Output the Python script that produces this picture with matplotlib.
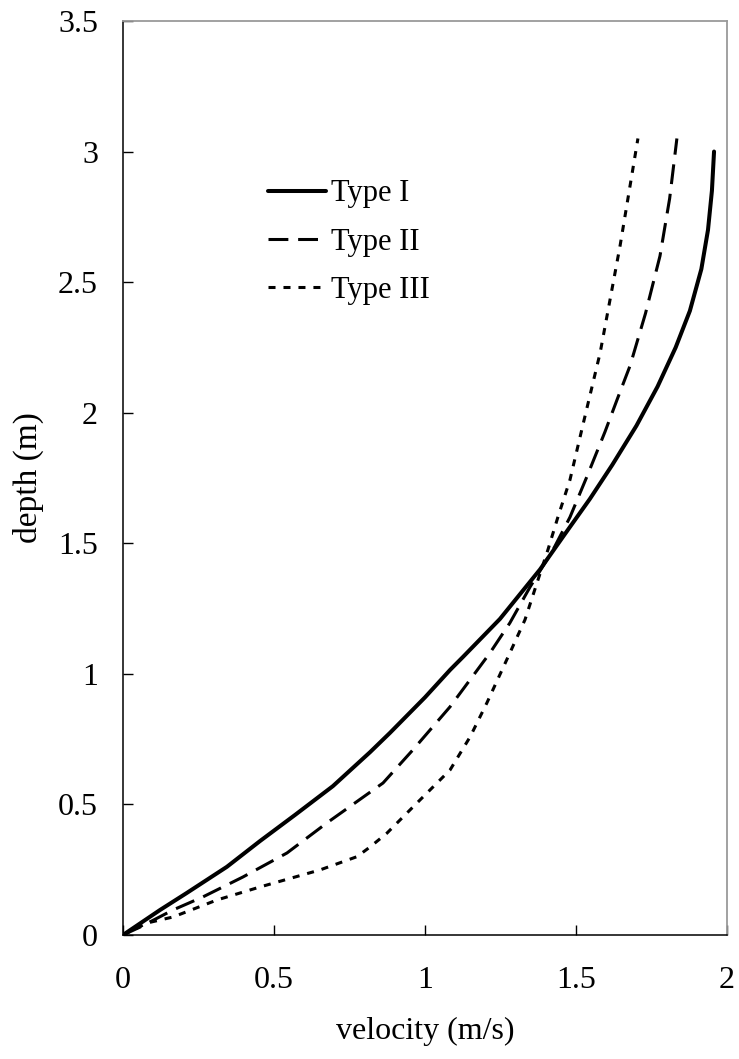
#!/usr/bin/env python3
"""Velocity profiles over depth for three flow types."""

import matplotlib
matplotlib.use("Agg")
import matplotlib.pyplot as plt
from matplotlib.ticker import FormatStrFormatter, MultipleLocator

type1_v = [0.0, 0.123, 0.21, 0.344, 0.454, 0.57, 0.695, 0.818, 0.884, 1.0, 1.083, 1.126,
           1.248, 1.381, 1.46, 1.546, 1.62, 1.70, 1.77, 1.83, 1.877, 1.915, 1.937,
           1.95, 1.957]
type1_d = [0.0, 0.096, 0.16, 0.261, 0.36, 0.46, 0.57, 0.70, 0.774, 0.91, 1.015, 1.065,
           1.21, 1.40, 1.53, 1.67, 1.80, 1.95, 2.10, 2.25, 2.39, 2.55, 2.70,
           2.85, 3.0]

type2_v = [0.0, 0.056, 0.166, 0.265, 0.397, 0.543, 0.675, 0.861, 0.960, 1.083, 1.215,
           1.281, 1.348, 1.424, 1.48, 1.536, 1.596, 1.636, 1.679, 1.73, 1.778, 1.81,
           1.834]
type2_d = [0.0, 0.03, 0.096, 0.146, 0.222, 0.314, 0.429, 0.582, 0.709, 0.874, 1.08,
           1.195, 1.333, 1.475, 1.60, 1.755, 1.927, 2.05, 2.18, 2.38, 2.60, 2.82,
           3.05]

type3_v = [0.0, 0.08, 0.166, 0.311, 0.454, 0.652, 0.775, 0.818, 0.874, 0.96, 1.083,
           1.15, 1.205, 1.281, 1.331, 1.371, 1.407, 1.44, 1.48, 1.523, 1.58, 1.646,
           1.705]
type3_d = [0.0, 0.046, 0.069, 0.134, 0.184, 0.249, 0.30, 0.337, 0.39, 0.49, 0.632,
           0.76, 0.889, 1.08, 1.207, 1.349, 1.475, 1.60, 1.743, 1.954, 2.23, 2.64,
           3.05]

labels = ["Type I", "Type II", "Type III"]

plt.rcParams["font.family"] = ["Liberation Serif", "DejaVu Serif"]

fig = plt.figure(figsize=(7.39, 10.59), dpi=100)
ax = fig.add_axes([0.1664, 0.1171, 0.8174, 0.8631])

ax.plot(type1_v, type1_d, color="black", lw=2.9, solid_joinstyle="round",
        solid_capstyle="round", label=labels[0])
ax.plot(type2_v, type2_d, color="black", lw=2.2, linestyle=(0, (6.5, 3.2)),
        label=labels[1])
ax.plot(type3_v, type3_d, color="black", lw=2.2, linestyle=(0, (2.3, 2.6)),
        label=labels[2])

ax.set_xlim(0, 2)
ax.set_ylim(0, 3.5)
ax.xaxis.set_major_locator(MultipleLocator(0.5))
ax.yaxis.set_major_locator(MultipleLocator(0.5))
fmt = FormatStrFormatter("%g")
ax.xaxis.set_major_formatter(fmt)
ax.yaxis.set_major_formatter(fmt)

ax.tick_params(axis="both", direction="in", length=7, width=1.0,
               labelsize=23, color="black")
ax.tick_params(axis="y", pad=18)
ax.tick_params(axis="x", pad=22)

ax.spines["left"].set_linewidth(1.1)
ax.spines["bottom"].set_linewidth(1.1)
for side in ("top", "right"):
    ax.spines[side].set_color("#9a9a9a")
    ax.spines[side].set_linewidth(1.3)

ax.set_xlabel("velocity (m/s)", fontsize=23, labelpad=16)
ax.set_ylabel("depth (m)", fontsize=24, labelpad=10)

leg = ax.legend(loc="upper left", bbox_to_anchor=(0.22, 0.84), frameon=False,
                fontsize=22, handlelength=1.9, handletextpad=0.15,
                labelspacing=0.63, borderaxespad=0)

fig.savefig("out.png", dpi=100)
